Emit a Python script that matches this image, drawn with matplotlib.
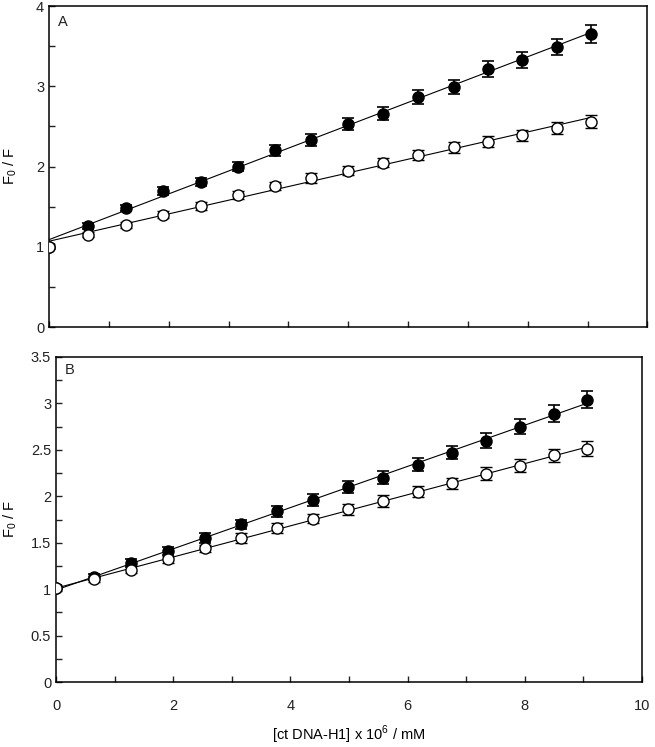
"""Stern-Volmer plots, panels A and B."""
import matplotlib
matplotlib.use("Agg")
import matplotlib.pyplot as plt
from matplotlib.ticker import MultipleLocator, FormatStrFormatter
import numpy as np

plt.rcParams.update({
    "font.family": "Liberation Sans", "font.size": 10.5,
    "text.color": "#222222", "xtick.color": "#222222", "ytick.color": "#222222",
    "mathtext.fontset": "custom", "mathtext.rm": "Liberation Sans",
})

# concentration, [ct DNA-H1] x 10^6 / mM
conc = [0, 0.65, 1.28, 1.91, 2.54, 3.16, 3.77, 4.38,
        4.99, 5.58, 6.17, 6.76, 7.34, 7.91, 8.49, 9.06]

# panel A
a_filled = [1.0, 1.26, 1.48, 1.70, 1.81, 2.00, 2.20, 2.33,
            2.53, 2.66, 2.87, 2.99, 3.21, 3.33, 3.49, 3.65]
a_filled_err = [0.03, 0.04, 0.04, 0.05, 0.05, 0.06, 0.07, 0.07,
                0.08, 0.08, 0.09, 0.09, 0.10, 0.10, 0.10, 0.11]
a_open = [1.0, 1.15, 1.27, 1.40, 1.51, 1.64, 1.76, 1.86,
          1.95, 2.05, 2.14, 2.24, 2.31, 2.39, 2.48, 2.56]
a_open_err = [0.03, 0.03, 0.04, 0.04, 0.05, 0.05, 0.05, 0.06,
              0.06, 0.06, 0.06, 0.07, 0.07, 0.07, 0.07, 0.08]

# panel B
b_filled = [1.01, 1.13, 1.28, 1.41, 1.55, 1.70, 1.84, 1.96,
            2.10, 2.20, 2.34, 2.47, 2.60, 2.75, 2.89, 3.04]
b_filled_err = [0.03, 0.03, 0.04, 0.04, 0.05, 0.05, 0.06, 0.06,
                0.06, 0.07, 0.07, 0.07, 0.08, 0.08, 0.09, 0.09]
b_open = [1.01, 1.11, 1.21, 1.32, 1.44, 1.55, 1.66, 1.76,
          1.86, 1.95, 2.05, 2.14, 2.24, 2.33, 2.44, 2.51]
b_open_err = [0.03, 0.03, 0.04, 0.04, 0.04, 0.05, 0.05, 0.05,
              0.06, 0.06, 0.06, 0.06, 0.07, 0.07, 0.07, 0.08]

fig = plt.figure(figsize=(6.55, 7.47), dpi=100)
ax_a = fig.add_axes([0.0748, 0.5622, 0.9137, 0.4297])
ax_b = fig.add_axes([0.0855, 0.0870, 0.8947, 0.4351])


def draw(ax, filled, filled_err, opened, opened_err):
    x = np.array(conc)
    xl = np.array([0, x[-1]])
    for y in (filled, opened):
        k, b = np.polyfit(x, y, 1)
        ax.plot(xl, b + k * xl, color="black", lw=0.8, zorder=2)
    ax.errorbar(x, filled, yerr=filled_err, fmt="o", ms=8, mfc="black", mec="black",
                ecolor="black", elinewidth=1.2, capsize=4, capthick=1.2, zorder=3)
    ax.errorbar(x, opened, yerr=opened_err, fmt="o", ms=8, mfc="white", mec="black",
                mew=1.0, ecolor="black", elinewidth=1.2, capsize=4, capthick=1.2, zorder=4)
    ax.set_xlim(0, 10)
    ax.xaxis.set_major_locator(MultipleLocator(2))
    ax.xaxis.set_minor_locator(MultipleLocator(1))
    ax.yaxis.set_major_formatter(FormatStrFormatter("%g"))
    ax.tick_params(which="both", direction="in", length=4, width=1)
    for s in ax.spines.values():
        s.set_linewidth(1.1)
    ax.set_ylabel("F$_\\mathregular{0}$ / F")


draw(ax_a, a_filled, a_filled_err, a_open, a_open_err)
ax_a.set_ylim(0, 4)
ax_a.yaxis.set_major_locator(MultipleLocator(1))
ax_a.yaxis.set_minor_locator(MultipleLocator(0.5))
ax_a.tick_params(labelbottom=False)
ax_a.yaxis.set_label_coords(-0.050, 0.5)
ax_a.text(0.015, 0.95, "A", transform=ax_a.transAxes, ha="left", va="center")

draw(ax_b, b_filled, b_filled_err, b_open, b_open_err)
ax_b.set_ylim(0, 3.5)
ax_b.yaxis.set_major_locator(MultipleLocator(0.5))
ax_b.yaxis.set_minor_locator(MultipleLocator(0.25))
ax_b.yaxis.set_label_coords(-0.063, 0.5)
ax_b.tick_params(axis="x", pad=12)
ax_b.set_xlabel("[ct DNA-H1] x 10$^\\mathregular{6}$ / mM", labelpad=8)
ax_b.text(0.015, 0.96, "B", transform=ax_b.transAxes, ha="left", va="center")

fig.savefig("out.png", dpi=100)
